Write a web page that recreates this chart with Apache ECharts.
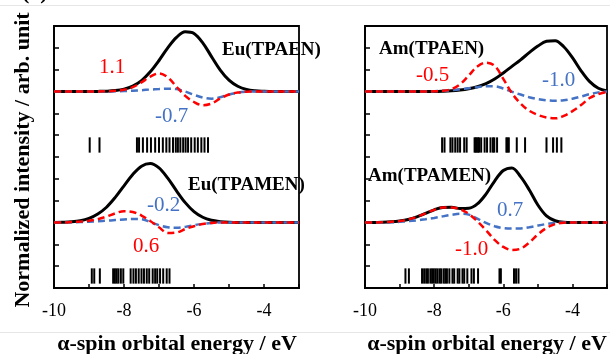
<!DOCTYPE html>
<html>
<head>
<meta charset="utf-8">
<script src="https://cdn.jsdelivr.net/npm/echarts@6/dist/echarts.min.js"></script>
<style>
html,body{margin:0;padding:0;background:#fff;}
#chart{width:610px;height:354px;}
</style>
</head>
<body>
<div id="chart"></div>
<script>
// Shared energy grid (eV)
const energy = [-10, -9.75, -9.5, -9.25, -9, -8.75, -8.5, -8.25, -8, -7.75, -7.5, -7.25, -7, -6.75, -6.5, -6.25, -6, -5.75, -5.5, -5.25, -5, -4.75, -4.5, -4.25, -4, -3.75, -3.5, -3.25, -3];

// Eu(TPAEN) (upper left)
const euTpaenBlack = [0, 0, 0, 0, 0, 0.005, 0.015, 0.043, 0.11, 0.25, 0.5, 0.9, 1.42, 2.0, 2.48, 2.74, 2.66, 2.23, 1.6, 0.98, 0.52, 0.24, 0.09, 0.03, 0.01, 0, 0, 0, 0];
const euTpaenRed   = [0, 0, 0, 0, 0, 0, 0.01, 0.03, 0.08, 0.2, 0.42, 0.68, 0.83, 0.65, 0.22, -0.2, -0.48, -0.63, -0.55, -0.32, -0.14, -0.05, -0.01, 0, 0, 0, 0, 0, 0];
const euTpaenBlue  = [0, 0, 0, 0, 0, 0, 0, 0.01, 0.02, 0.04, 0.06, 0.09, 0.11, 0.13, 0.11, 0.0, -0.15, -0.28, -0.33, -0.26, -0.14, -0.05, -0.01, 0, 0, 0, 0, 0, 0];
const euTpaenSticks = [-8.98, -8.70, -7.63, -7.57, -7.46, -7.34, -7.23, -7.11, -7.0, -6.89, -6.79, -6.70, -6.60, -6.52, -6.46, -6.39, -6.31, -6.24, -6.17, -6.08, -5.98, -5.89, -5.79, -5.70, -5.60];

// Eu(TPAMEN) (lower left)
const euTpamenBlack = [0, 0.01, 0.03, 0.08, 0.19, 0.39, 0.7, 1.15, 1.68, 2.2, 2.58, 2.7, 2.5, 2.03, 1.45, 0.91, 0.5, 0.24, 0.1, 0.04, 0.01, 0, 0, 0, 0, 0, 0, 0, 0];
const euTpamenRed   = [0, 0, 0.02, 0.04, 0.08, 0.15, 0.27, 0.42, 0.52, 0.48, 0.32, 0.07, -0.22, -0.48, -0.46, -0.3, -0.17, -0.07, -0.02, 0, 0, 0, 0, 0, 0, 0, 0, 0, 0];
const euTpamenBlue  = [0, 0, 0.01, 0.02, 0.04, 0.06, 0.08, 0.11, 0.14, 0.16, 0.15, 0.02, -0.12, -0.22, -0.24, -0.2, -0.12, -0.06, -0.02, 0, 0, 0, 0, 0, 0, 0, 0, 0, 0];
const euTpamenSticks = [-8.92, -8.85, -8.69, -8.31, -8.26, -8.21, -8.16, -8.09, -8.02, -7.81, -7.73, -7.66, -7.58, -7.5, -7.43, -7.35, -7.28, -7.18, -7.11, -7.05, -6.97, -6.88, -6.78, -6.70];

// Am(TPAEN) (upper right)
const amTpaenBlack = [0, 0, 0, 0, 0, 0, 0, 0, 0, 0.01, 0.03, 0.07, 0.13, 0.22, 0.36, 0.57, 0.85, 1.15, 1.45, 1.78, 2.08, 2.3, 2.33, 2.05, 1.55, 0.95, 0.45, 0.15, 0.02];
const amTpaenRed   = [0, 0, 0, 0, 0, 0, 0, 0, 0.01, 0.03, 0.11, 0.33, 0.73, 1.15, 1.32, 1.18, 0.58, -0.08, -0.55, -0.88, -1.07, -1.19, -1.23, -1.12, -0.9, -0.62, -0.3, -0.12, -0.02];
const amTpaenBlue  = [0, 0, 0, 0, 0, 0, 0, 0, 0.01, 0.03, 0.06, 0.1, 0.15, 0.2, 0.24, 0.24, 0.14, -0.01, -0.14, -0.26, -0.35, -0.4, -0.42, -0.4, -0.33, -0.23, -0.12, -0.04, 0];
const amTpaenSticks = [-7.77, -7.70, -7.53, -7.47, -7.39, -7.32, -7.25, -7.13, -7.06, -6.83, -6.80, -6.77, -6.73, -6.70, -6.64, -6.54, -6.47, -6.37, -6.30, -6.26, -6.18, -5.91, -5.88, -5.84, -5.61, -5.37, -4.75, -4.56, -4.45, -4.32];

// Am(TPAMEN) (lower right)
const amTpamenBlack = [0, 0, 0.01, 0.03, 0.07, 0.14, 0.26, 0.42, 0.58, 0.69, 0.7, 0.64, 0.65, 0.85, 1.3, 1.9, 2.38, 2.5, 2.1, 1.5, 0.8, 0.3, 0.08, 0.01, 0, 0, 0, 0, 0];
const amTpamenRed   = [0, 0, 0.01, 0.03, 0.07, 0.14, 0.26, 0.42, 0.58, 0.69, 0.69, 0.6, 0.4, 0.05, -0.35, -0.8, -1.12, -1.26, -1.2, -0.92, -0.55, -0.25, -0.07, -0.01, 0, 0, 0, 0, 0];
const amTpamenBlue  = [0, 0, 0, 0.01, 0.03, 0.06, 0.1, 0.15, 0.21, 0.28, 0.35, 0.4, 0.36, 0.18, -0.02, -0.17, -0.26, -0.28, -0.27, -0.22, -0.14, -0.07, -0.02, 0, 0, 0, 0, 0, 0];
const amTpamenSticks = [-8.83, -8.73, -8.35, -8.29, -8.23, -8.18, -8.11, -8.06, -8.01, -7.96, -7.91, -7.85, -7.80, -7.73, -7.68, -7.63, -7.56, -7.47, -7.42, -7.32, -7.27, -7.18, -7.13, -7.04, -6.92, -6.85, -6.73, -6.11, -6.07, -5.69, -5.63, -5.56];

// Vertical offsets of stacked traces (axis units) and stick extents
const upperBaseline = 9;
const lowerBaseline = 3;
const upperStickRange = [6.2, 6.9];
const lowerStickRange = [0.2, 0.9];

// Annotation texts
const curveLabels = ['Eu(TPAEN)', 'Eu(TPAMEN)', 'Am(TPAEN)', 'Am(TPAMEN)'];
const valueLabels = ['1.1', '-0.7', '-0.2', '0.6', '-0.5', '-1.0', '0.7', '-1.0'];

const SERIF = '"Liberation Serif", "Times New Roman", serif';
const RED = '#ff0000', BLUE = '#4472c4';

function curve(vals, off) { return energy.map((x, i) => [x, vals[i] + off]); }

function lineSeries(g, vals, off, color, dashed, z) {
  return {
    type: 'line', xAxisIndex: g, yAxisIndex: g, data: curve(vals, off),
    showSymbol: false, smooth: 0.35, z: z, silent: true,
    lineStyle: { color: color, width: dashed ? 2.5 : 3, type: dashed ? [7, 4] : 'solid' }
  };
}
function stickSeries(g, sticks, range) {
  return {
    type: 'custom', xAxisIndex: g, yAxisIndex: g, z: 5, silent: true,
    data: sticks.map(x => [x, range[0], range[1]]),
    encode: { x: 0, y: [1, 2] },
    renderItem: function (params, api) {
      const p1 = api.coord([api.value(0), api.value(1)]);
      const p2 = api.coord([api.value(0), api.value(2)]);
      return { type: 'line', shape: { x1: p1[0], y1: p1[1], x2: p2[0], y2: p2[1] },
               style: { stroke: '#000', lineWidth: 2 } };
    }
  };
}
function xAxis(g) {
  return {
    type: 'value', gridIndex: g, min: -10, max: -3, interval: 1,
    axisLine: { show: true, lineStyle: { color: '#000', width: 1.8 } },
    axisTick: { show: true, inside: true, length: 4, lineStyle: { color: '#000', width: 1.5 } },
    axisLabel: { show: true, margin: 14, color: '#000', fontFamily: SERIF, fontSize: 18,
                 formatter: v => (v % 2 === 0 ? String(v) : '') },
    splitLine: { show: false }
  };
}
function yAxis(g) {
  return {
    type: 'value', gridIndex: g, min: 0, max: 12, interval: 1,
    axisLine: { show: true, lineStyle: { color: '#000', width: 1.8 } },
    axisTick: { show: true, inside: true, length: 5, lineStyle: { color: '#000', width: 1.5 } },
    axisLabel: { show: false }, splitLine: { show: false }
  };
}
function txt(text, x, y, size, color, bold, align) {
  return { type: 'text', x: x, y: y, z: 10, silent: true,
    style: { text: text, fill: color, font: (bold ? 'bold ' : '') + size + 'px ' + SERIF,
             align: align || 'left', verticalAlign: 'middle' } };
}

const chart = echarts.init(document.getElementById('chart'), null, { renderer: 'canvas' });
chart.setOption({
  backgroundColor: '#fff',
  animation: false,
  grid: [
    { left: 54, top: 26, width: 245, height: 262, show: true, borderColor: '#000', borderWidth: 1.8, backgroundColor: 'transparent' },
    { left: 365, top: 26, width: 244, height: 262, show: true, borderColor: '#000', borderWidth: 1.8, backgroundColor: 'transparent' }
  ],
  xAxis: [xAxis(0), xAxis(1)],
  yAxis: [yAxis(0), yAxis(1)],
  series: [
    lineSeries(0, euTpaenBlack, upperBaseline, '#000', false, 2),
    lineSeries(0, euTpaenBlue, upperBaseline, BLUE, true, 3),
    lineSeries(0, euTpaenRed, upperBaseline, RED, true, 4),
    lineSeries(0, euTpamenBlack, lowerBaseline, '#000', false, 2),
    lineSeries(0, euTpamenBlue, lowerBaseline, BLUE, true, 3),
    lineSeries(0, euTpamenRed, lowerBaseline, RED, true, 4),
    stickSeries(0, euTpaenSticks, upperStickRange),
    stickSeries(0, euTpamenSticks, lowerStickRange),
    lineSeries(1, amTpaenBlack, upperBaseline, '#000', false, 2),
    lineSeries(1, amTpaenBlue, upperBaseline, BLUE, true, 3),
    lineSeries(1, amTpaenRed, upperBaseline, RED, true, 4),
    lineSeries(1, amTpamenBlack, lowerBaseline, '#000', false, 2),
    lineSeries(1, amTpamenBlue, lowerBaseline, BLUE, true, 3),
    lineSeries(1, amTpamenRed, lowerBaseline, RED, true, 4),
    stickSeries(1, amTpaenSticks, upperStickRange),
    stickSeries(1, amTpamenSticks, lowerStickRange)
  ],
  graphic: [
    { type: 'line', silent: true, shape: { x1: 0, y1: 5.5, x2: 610, y2: 5.5 }, style: { stroke: '#e6e6e6', lineWidth: 1 } },
    { type: 'line', silent: true, shape: { x1: 0, y1: 332.5, x2: 610, y2: 332.5 }, style: { stroke: '#e6e6e6', lineWidth: 1 } },
    { type: 'text', x: 22, y: 4, silent: true,
      style: { text: '(a)', fill: '#000', font: 'bold 22px ' + SERIF, align: 'left', verticalAlign: 'bottom' } },
    { type: 'text', x: 23, y: 160, rotation: Math.PI / 2, silent: true,
      style: { text: 'Normalized intensity / arb. unit', fill: '#000', font: 'bold 22px ' + SERIF, align: 'center', verticalAlign: 'middle' } },
    txt('α-spin orbital energy / eV', 177, 344, 22, '#000', true, 'center'),
    txt('α-spin orbital energy / eV', 487, 344, 22, '#000', true, 'center'),
    txt(curveLabels[0], 222, 50, 19, '#000', true),
    txt(curveLabels[1], 188, 185, 19, '#000', true),
    txt(curveLabels[2], 379, 49, 19, '#000', true),
    txt(curveLabels[3], 368, 176, 19, '#000', true),
    txt(valueLabels[0], 99, 67, 21, RED, false),
    txt(valueLabels[1], 155, 116, 21, BLUE, false),
    txt(valueLabels[2], 147, 205, 21, BLUE, false),
    txt(valueLabels[3], 133, 246, 21, RED, false),
    txt(valueLabels[4], 416, 75, 21, RED, false),
    txt(valueLabels[5], 542, 80, 21, BLUE, false),
    txt(valueLabels[6], 497, 210, 21, BLUE, false),
    txt(valueLabels[7], 455, 249, 21, RED, false)
  ]
});
</script>
</body>
</html>
